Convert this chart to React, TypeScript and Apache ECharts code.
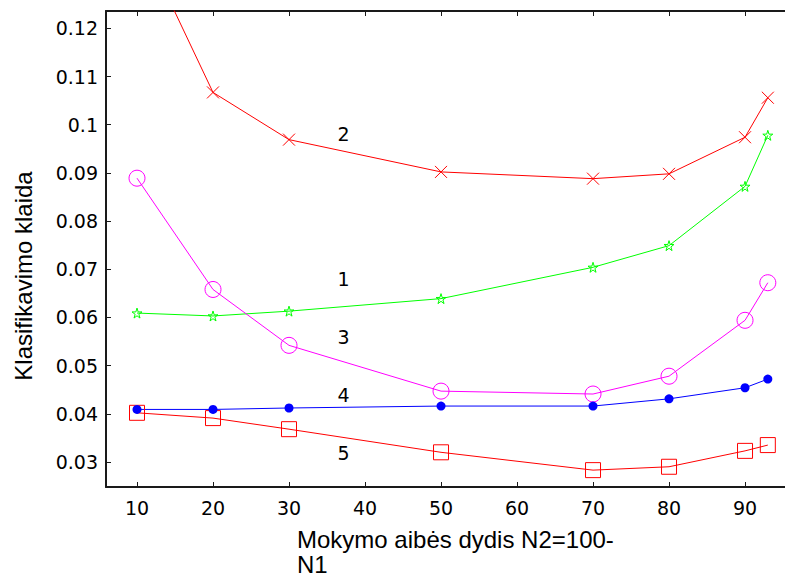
import React, { useEffect, useRef } from "react";
import * as echarts from "echarts";

const xValues = [10, 20, 30, 50, 70, 80, 90, 93];
const series1 = [0.0609, 0.0603, 0.0613, 0.0639, 0.0704, 0.0749, 0.0872, 0.0978];
const series2 = [0.14, 0.1067, 0.0969, 0.0902, 0.0888, 0.0898, 0.0974, 0.1056];
const series3 = [0.0889, 0.0658, 0.0542, 0.0447, 0.0441, 0.0478, 0.0594, 0.0672];
const series4 = [0.0409, 0.0409, 0.0412, 0.0416, 0.0416, 0.0431, 0.0454, 0.0472];
const series5 = [0.0402, 0.0391, 0.0368, 0.032, 0.0283, 0.029, 0.0323, 0.0335];
const xTicks = [10, 20, 30, 40, 50, 60, 70, 80, 90];
const yTicks = [0.03, 0.04, 0.05, 0.06, 0.07, 0.08, 0.09, 0.1, 0.11, 0.12];
const curveNames = ["1", "2", "3", "4", "5"];
const xTitleLines = ["Mokymo aibės dydis N2=100-", "N1"];
const yTitle = "Klasifikavimo klaida";

const CROSS = "path://M0,0L10,10M10,0L0,10";
const STAR = "path://M50,0L61,35L98,35L68,57L79,91L50,70L21,91L32,57L2,35L39,35Z";

const tickFont = "DejaVu Sans";
const titleFont = "Liberation Sans";

function pairs(ys: number[]) {
  return xValues.map((x, i) => [x, ys[i]]);
}

export default function App() {
  const ref = useRef<HTMLDivElement>(null);
  useEffect(() => {
    if (!ref.current) return;
    const chart = echarts.init(ref.current, undefined, { renderer: "svg" });
    const axisLine = { show: true, lineStyle: { color: "#1a1a1a", width: 2 } };
    const mk = (
      name: string,
      ys: number[],
      color: string,
      symbol: string,
      size: number,
      filled: boolean
    ) => ({
      name,
      type: "line",
      data: pairs(ys),
      symbol,
      symbolSize: size,
      showSymbol: true,
      clip: true,
      lineStyle: { color, width: 1 },
      itemStyle: filled
        ? { color, borderColor: color, borderWidth: 0 }
        : { color: "rgba(0,0,0,0)", borderColor: color, borderWidth: 1 },
      emphasis: { disabled: true },
    });
    const labelPos = [
      { t: curveNames[1], x: 343.5, y: 134 },
      { t: curveNames[0], x: 343.5, y: 279 },
      { t: curveNames[2], x: 343.5, y: 337 },
      { t: curveNames[3], x: 343.5, y: 395 },
      { t: curveNames[4], x: 343.5, y: 452.5 },
    ];
    const tickStyle = { color: "#1a1a1a", width: 1 };
    chart.setOption({
      animation: false,
      grid: { left: 106, top: 11, right: 0, bottom: 90, containLabel: false },
      xAxis: [
        {
          type: "value",
          min: 5.92,
          max: 95.26,
          position: "bottom",
          axisLine,
          axisTick: { show: true, inside: true, length: 5, customValues: xTicks, lineStyle: tickStyle },
          axisLabel: {
            customValues: xTicks,
            margin: 11,
            color: "#000",
            fontFamily: tickFont,
            fontSize: 19,
          },
          splitLine: { show: false },
        },
        {
          type: "value",
          min: 5.92,
          max: 95.26,
          position: "top",
          axisLine,
          axisTick: { show: true, inside: true, length: 5, customValues: xTicks, lineStyle: tickStyle },
          axisLabel: { show: false },
          splitLine: { show: false },
        },
      ],
      yAxis: {
        type: "value",
        min: 0.0248,
        max: 0.1236,
        axisLine,
        axisTick: { show: true, inside: true, length: 5, customValues: yTicks, lineStyle: tickStyle },
        axisLabel: {
          customValues: yTicks,
          margin: 8,
          color: "#000",
          fontFamily: tickFont,
          fontSize: 19,
          formatter: (v: number) => String(+v.toFixed(2)),
        },
        splitLine: { show: false },
      },
      series: [
        mk("2", series2, "#ff0000", CROSS, 12, false),
        mk("1", series1, "#00ff00", STAR, 10, false),
        mk("3", series3, "#ff00ff", "circle", 16, false),
        mk("5", series5, "#ff0000", "rect", 15, false),
        mk("4", series4, "#0000ff", "circle", 9, true),
      ],
      graphic: [
        ...labelPos.map((p) => ({
          type: "text",
          x: p.x,
          y: p.y,
          style: {
            text: p.t,
            fill: "#000",
            font: `19px ${tickFont}`,
            align: "center",
            verticalAlign: "middle",
          },
        })),
        {
          type: "text",
          x: 297,
          y: 527,
          style: {
            text: xTitleLines[0],
            fill: "#000",
            font: `24px ${titleFont}`,
            lineHeight: 24,
            align: "left",
            verticalAlign: "top",
          },
        },
        {
          type: "text",
          x: 297,
          y: 552.5,
          style: {
            text: xTitleLines[1],
            fill: "#000",
            font: `24px ${titleFont}`,
            lineHeight: 24,
            align: "left",
            verticalAlign: "top",
          },
        },
        {
          type: "text",
          x: 23,
          y: 276,
          rotation: Math.PI / 2,
          style: {
            text: yTitle,
            fill: "#000",
            font: `24px ${titleFont}`,
            align: "center",
            verticalAlign: "middle",
          },
        },
      ],
    });
    return () => chart.dispose();
  }, []);
  return (
    <div
      ref={ref}
      style={{ position: "absolute", left: 0, top: 0, width: 785, height: 577, background: "#fff" }}
    />
  );
}
